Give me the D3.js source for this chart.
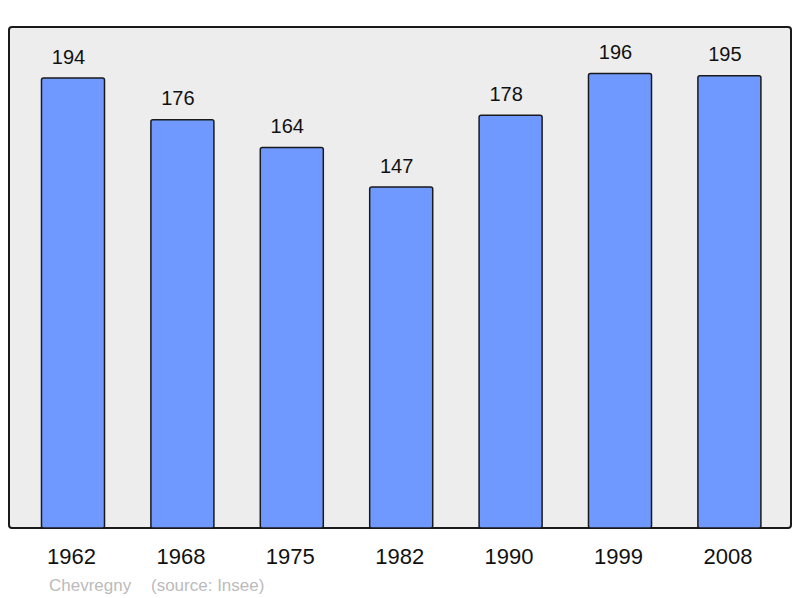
<!DOCTYPE html>
<html><head><meta charset="utf-8">
<script src="https://cdn.jsdelivr.net/npm/d3@7"></script>
<style>body{margin:0;background:#fff}svg{display:block}text{font-family:"Liberation Sans",Arial,sans-serif}</style>
</head><body><svg id="c" width="800" height="598"></svg>
<script>
const years = ["1962","1968","1975","1982","1990","1999","2008"];
const population = [194,176,164,147,178,196,195];
const yMax = 216;
const svg = d3.select("#c");
const frame = {x0:9, y0:27, x1:791, y1:528};
svg.append("rect").attr("x",frame.x0).attr("y",frame.y0).attr("width",frame.x1-frame.x0).attr("height",frame.y1-frame.y0)
  .attr("rx",3).attr("fill","#ededed").attr("stroke","#1a1a1a").attr("stroke-width",2);
const x = d3.scaleBand().domain(years).range([18.3,784.1]).paddingInner(0.424).paddingOuter(0.212);
const y = d3.scaleLinear().domain([0,yMax]).range([frame.y1,frame.y0]);
const g = svg.append("g");
g.selectAll("rect.bar").data(years).join("rect").attr("class","bar")
  .attr("x",d=>x(d)).attr("width",x.bandwidth())
  .attr("y",(d,i)=>y(population[i])).attr("height",(d,i)=>frame.y1-y(population[i]))
  .attr("rx",2).attr("fill","#7099ff").attr("stroke","#1a1a1a").attr("stroke-width",1.5);
g.selectAll("text.val").data(years).join("text").attr("class","val")
  .attr("x",d=>x(d)+x.bandwidth()/2-4.5).attr("y",(d,i)=>y(population[i])-14.5)
  .attr("text-anchor","middle").attr("font-size",20).attr("fill","#111").text((d,i)=>population[i]);
g.selectAll("text.yr").data(years).join("text").attr("class","yr")
  .attr("x",d=>x(d)+x.bandwidth()/2-1.5).attr("y",564)
  .attr("text-anchor","middle").attr("font-size",22).attr("fill","#111").text(d=>d);
svg.append("text").attr("x",49).attr("y",591).attr("font-size",17).attr("fill","#bbb").text("Chevregny");
svg.append("text").attr("x",151).attr("y",591).attr("font-size",17).attr("fill","#bbb").text("(source: Insee)");
</script></body></html>
